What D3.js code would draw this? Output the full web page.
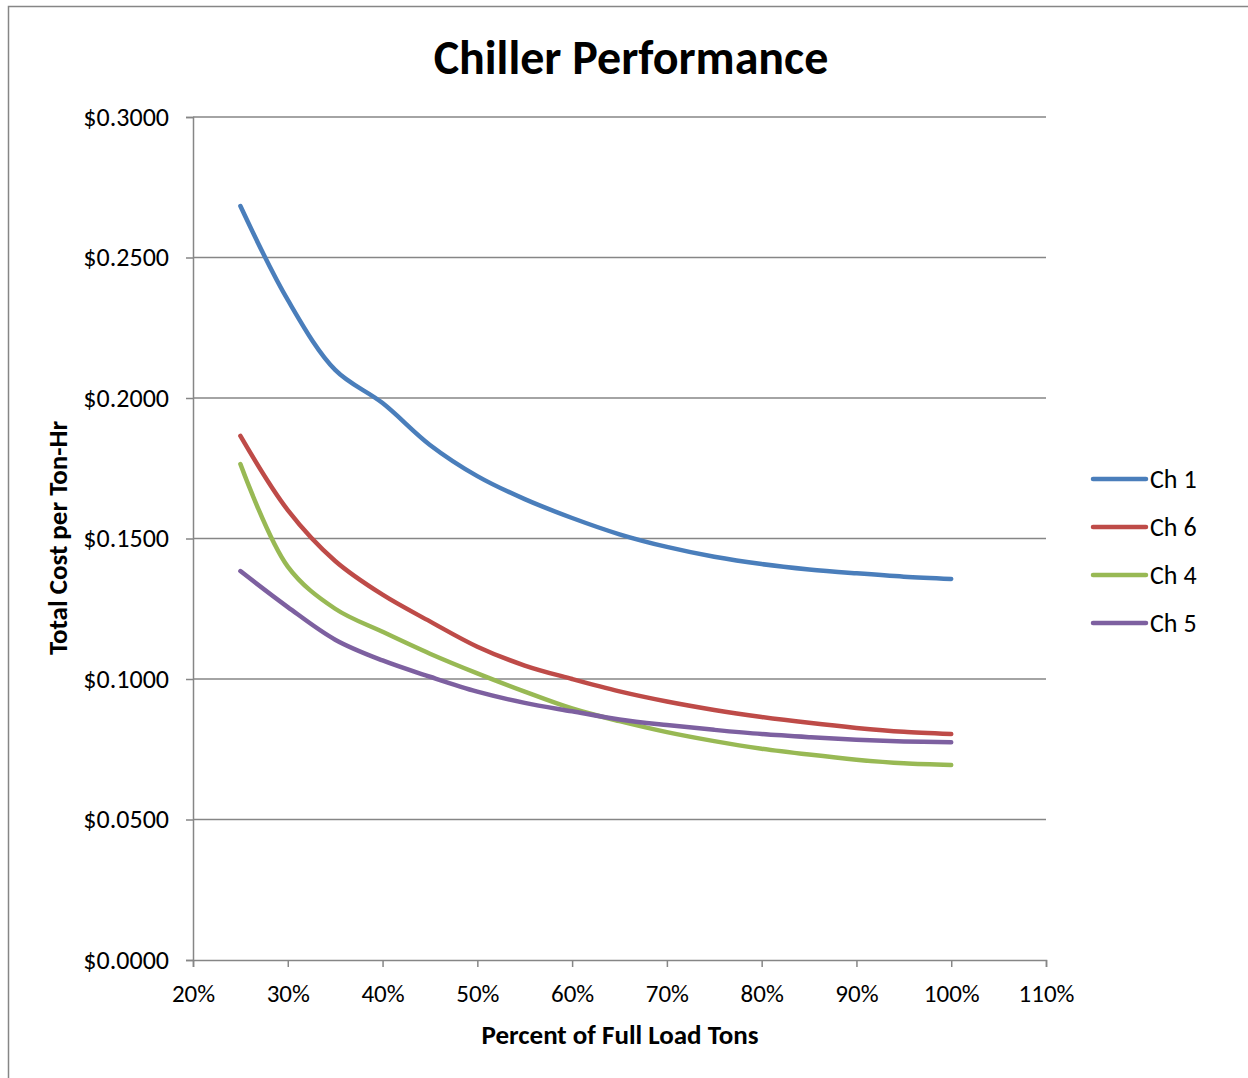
<!DOCTYPE html>
<html>
<head>
<meta charset="utf-8">
<script src="https://cdn.jsdelivr.net/npm/d3@7"></script>
<style>
  body { margin: 0; background: #fff; }
  text { font-family: Carlito, Calibri, "Open Sans", sans-serif; fill: #000; }
</style>
</head>
<body>
<script>
const loads = [25, 30, 35, 40, 45, 50, 55, 60, 65, 70, 75, 80, 85, 90, 95, 100];

const ch1 = [0.2683, 0.2349, 0.2100, 0.1982, 0.1833, 0.1722, 0.1640, 0.1573, 0.1515, 0.1470, 0.1435, 0.1409, 0.1390, 0.1376, 0.1364, 0.1356];
const ch6 = [0.1865, 0.1601, 0.1420, 0.1300, 0.1205, 0.1115, 0.1048, 0.1000, 0.0956, 0.0920, 0.0890, 0.0865, 0.0844, 0.0826, 0.0812, 0.0804];
const ch4 = [0.1765, 0.1400, 0.1250, 0.1168, 0.1090, 0.1020, 0.0955, 0.0895, 0.0850, 0.0811, 0.0779, 0.0752, 0.0731, 0.0713, 0.0700, 0.0694];
const ch5 = [0.1384, 0.1256, 0.1140, 0.1066, 0.1008, 0.0955, 0.0915, 0.0885, 0.0856, 0.0836, 0.0819, 0.0804, 0.0793, 0.0784, 0.0778, 0.0775];

const seriesNames = ["Ch 1", "Ch 6", "Ch 4", "Ch 5"];
const seriesValues = [ch1, ch6, ch4, ch5];
const seriesColors = ["#4a7ebb", "#be4b48", "#98b954", "#7d60a0"];

const xTicks = [20, 30, 40, 50, 60, 70, 80, 90, 100, 110];
const yTicks = [0, 0.05, 0.1, 0.15, 0.2, 0.25, 0.3];

const W = 1248, H = 1078;
const svg = d3.select("body").append("svg")
  .attr("width", W)
  .attr("height", H);

// outer chart frame
svg.append("rect")
  .attr("x", 8.5).attr("y", 6.5)
  .attr("width", 1250).attr("height", 1090)
  .attr("fill", "none")
  .attr("stroke", "#868686")
  .attr("stroke-width", 1.5);

const plot = { left: 193, right: 1046, top: 117, bottom: 960 };

const x = d3.scaleLinear().domain([20, 110]).range([plot.left, plot.right]);
const y = d3.scaleLinear().domain([0, 0.3]).range([plot.bottom, plot.top]);

// gridlines
svg.append("g").selectAll("line")
  .data(yTicks.filter(d => d > 0))
  .enter()
  .append("line")
  .attr("x1", plot.left).attr("x2", plot.right)
  .attr("y1", d => y(d)).attr("y2", d => y(d))
  .attr("stroke", "#868686")
  .attr("stroke-width", 1.5);

// y axis
const yAxis = svg.append("g")
  .attr("transform", `translate(${plot.left},0)`)
  .call(d3.axisLeft(y).tickValues(yTicks).tickSize(7).tickPadding(17)
    .tickFormat(d => "$" + d.toFixed(4)));
yAxis.select(".domain").attr("stroke", "#868686").attr("stroke-width", 1.5);
yAxis.selectAll(".tick line").attr("stroke", "#868686").attr("stroke-width", 1.5);
yAxis.selectAll("text").style("font-size", "26px").attr("fill", "#000");

// x axis
const xAxis = svg.append("g")
  .attr("transform", `translate(0,${plot.bottom})`)
  .call(d3.axisBottom(x).tickValues(xTicks).tickSize(7).tickPadding(17)
    .tickFormat(d => d + "%"));
xAxis.select(".domain").attr("stroke", "#868686").attr("stroke-width", 1.5);
xAxis.selectAll(".tick line").attr("stroke", "#868686").attr("stroke-width", 1.5);
xAxis.selectAll("text").style("font-size", "25px").attr("fill", "#000");

// lines
const line = d3.line()
  .x(d => x(d[0]))
  .y(d => y(d[1]))
  .curve(d3.curveCatmullRom.alpha(0.5));

svg.append("g").selectAll("path")
  .data(seriesValues)
  .enter()
  .append("path")
  .attr("d", vals => line(loads.map((l, i) => [l, vals[i]])))
  .attr("fill", "none")
  .attr("stroke", (d, i) => seriesColors[i])
  .attr("stroke-width", 4.5)
  .attr("stroke-linecap", "round")
  .attr("stroke-linejoin", "round");

// title
svg.append("text")
  .attr("x", 631).attr("y", 74)
  .attr("text-anchor", "middle")
  .style("font-size", "48px")
  .style("font-weight", "bold")
  .text("Chiller Performance");

// axis titles
svg.append("text")
  .attr("x", 620).attr("y", 1044)
  .attr("text-anchor", "middle")
  .style("font-size", "27px")
  .style("font-weight", "bold")
  .text("Percent of Full Load Tons");

svg.append("text")
  .attr("transform", "translate(67,538) rotate(-90)")
  .attr("text-anchor", "middle")
  .style("font-size", "27px")
  .style("font-weight", "bold")
  .text("Total Cost per Ton-Hr");

// legend
const legend = svg.append("g").selectAll("g")
  .data(seriesNames)
  .enter()
  .append("g")
  .attr("transform", (d, i) => `translate(1093,${479 + i * 48})`);

legend.append("line")
  .attr("x1", 0).attr("x2", 53)
  .attr("stroke", (d, i) => seriesColors[i])
  .attr("stroke-width", 4.5)
  .attr("stroke-linecap", "round");

legend.append("text")
  .attr("x", 57).attr("y", 9)
  .style("font-size", "26px")
  .text(d => d);
</script>
</body>
</html>
